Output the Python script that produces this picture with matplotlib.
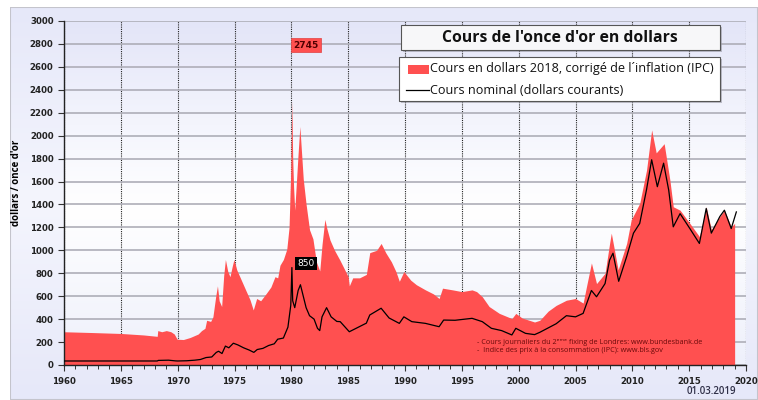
import numpy as np
import matplotlib
matplotlib.use('Agg')
import matplotlib.pyplot as plt
from matplotlib.patches import Rectangle
from matplotlib.lines import Line2D
from matplotlib.colors import LinearSegmentedColormap

# --- data ---
real_years = [1960.0, 1962.5, 1965.0, 1967.0, 1968.2, 1968.25, 1968.6, 1969.0, 1969.4, 1969.7,
              1969.95, 1970.5, 1971.1, 1971.8, 1972.1, 1972.4, 1972.55, 1972.9, 1973.1, 1973.35,
              1973.5, 1973.65, 1973.87, 1974.05, 1974.2, 1974.4, 1974.6, 1974.8, 1974.95, 1975.2,
              1975.6, 1976.0, 1976.36, 1976.65, 1976.95, 1977.3, 1977.8, 1978.2, 1978.56, 1978.8,
              1979.0, 1979.3, 1979.6, 1979.8, 1979.95, 1980.04, 1980.12, 1980.2, 1980.3, 1980.45,
              1980.6, 1980.75, 1980.9, 1981.05, 1981.3, 1981.6, 1981.9, 1982.2, 1982.5, 1982.7,
              1982.95, 1983.1, 1983.4, 1983.8, 1984.27, 1984.6, 1985.0, 1985.1, 1985.4, 1986.0,
              1986.6, 1986.9, 1987.5, 1987.9, 1988.3, 1988.8, 1989.2, 1989.5, 1989.9, 1990.5,
              1991.0, 1991.8, 1992.5, 1993.0, 1993.3, 1994.2, 1995.0, 1995.9, 1996.3, 1996.8,
              1997.4, 1998.3, 1999.4, 1999.75, 2000.3, 2001.4, 2001.86, 2002.6, 2003.3, 2004.2,
              2005.0, 2005.67, 2006.0, 2006.4, 2006.85, 2007.6, 2008.0, 2008.15, 2008.75, 2009.5,
              2009.9, 2010.65, 2011.25, 2011.7, 2012.1, 2012.8, 2013.3, 2013.6, 2014.2, 2015.06,
              2015.9, 2016.5, 2016.95, 2017.7, 2018.1, 2018.7, 2019.0]
real_price = [290, 283, 275, 262, 250, 300, 290, 300, 290, 270,
              225, 222, 240, 270, 300, 320, 390, 380, 420, 600,
              690, 560, 510, 780, 920, 820, 770, 860, 920, 830,
              740, 650, 570, 480, 580, 560, 625, 680, 770, 760,
              870, 920, 1010, 1200, 1700, 2300, 1800, 1550, 1350, 1600,
              1850, 2080, 1850, 1620, 1400, 1180, 1100, 900, 820, 1050,
              1270, 1200, 1090, 1000, 915, 850, 770, 690, 760, 760,
              790, 980, 1000, 1060, 980, 900, 815, 730, 815, 740,
              700, 655, 620, 580, 670, 655, 640, 655, 640, 595,
              510, 450, 405, 450, 410, 375, 390, 470, 520, 565,
              580, 540, 700, 890, 710, 800, 1060, 1150, 830, 1060,
              1265, 1410, 1700, 2050, 1850, 1930, 1615, 1380, 1350, 1235,
              1120, 1380, 1180, 1295, 1350, 1205, 1235]

nom_years = [1960.0, 1968.2, 1968.3, 1969.2, 1969.8, 1970.0, 1970.8, 1971.5, 1972.0, 1972.5,
             1973.0, 1973.4, 1973.6, 1973.9, 1974.2, 1974.5, 1974.9, 1975.3, 1975.8, 1976.3,
             1976.7, 1977.0, 1977.5, 1978.0, 1978.5, 1978.8, 1979.3, 1979.7, 1979.95, 1980.05,
             1980.12, 1980.3, 1980.6, 1980.8, 1981.0, 1981.3, 1981.6, 1982.0, 1982.3, 1982.5,
             1982.7, 1983.1, 1983.5, 1984.0, 1984.3, 1985.1, 1986.0, 1986.6, 1986.9, 1987.9,
             1988.6, 1989.5, 1989.9, 1990.6, 1991.8, 1993.0, 1993.4, 1994.4, 1995.9, 1996.8,
             1997.6, 1998.5, 1999.4, 1999.75, 2000.6, 2001.4, 2001.86, 2003.3, 2004.2, 2005.0,
             2005.67, 2006.4, 2006.85, 2007.6, 2008.0, 2008.3, 2008.8, 2009.5, 2010.1, 2010.65,
             2011.25, 2011.7, 2012.2, 2012.75, 2013.2, 2013.6, 2014.2, 2015.06, 2015.9, 2016.5,
             2016.95, 2017.7, 2018.1, 2018.7, 2019.15]
nom_price = [35, 35, 40, 42, 36, 35, 37, 42, 48, 65,
             70, 110, 120, 100, 165, 150, 190, 175, 150, 130,
             110, 135, 145, 170, 185, 225, 235, 330, 520, 850,
             560, 500, 650, 700, 620, 500, 430, 400, 320, 300,
             420, 500, 420, 380, 378, 290, 335, 365, 436, 495,
             410, 363, 420, 378, 363, 334, 392, 390, 407, 378,
             320, 300, 262, 320, 276, 265, 285, 360, 430, 420,
             450, 650, 595, 710, 915, 975, 730, 945, 1150, 1235,
             1530, 1790, 1555, 1760, 1525, 1205, 1320, 1190, 1060, 1365,
             1150, 1295, 1350, 1190, 1335]

real_peak = 2745
nominal_peak = 850

title = "Cours de l'once d'or en dollars"
label_real = "Cours en dollars 2018, corrigé de l\u00b4inflation (IPC)"
label_nom = "Cours nominal (dollars courants)"
sources = ["- Cours journaliers du 2\u1d49\u1d50\u1d49 fixing de Londres: www.bundesbank.de",
           "-  Indice des prix à la consommation (IPC): www.bls.gov"]
date_str = "01.03.2019"

RED = '#ff5050'
W, H = 758, 400


def fx(px):
    return px / W


def fy(py):
    return 1 - py / H


fig = plt.figure(figsize=(7.58, 4.0), dpi=100)
fig.patch.set_facecolor('white')

# outer panel with soft lavender gradient
bg = fig.add_axes([fx(10), 0, fx(748), 393 / H])
bg_cmap = LinearSegmentedColormap.from_list('bg', ['#e6e8f9', '#f4f5fd', '#e6e8f9'])
bg.imshow(np.linspace(0, 1, 256).reshape(-1, 1), aspect='auto', cmap=bg_cmap,
          extent=[0, 1, 0, 1])
bg.add_patch(Rectangle((0, 0), 1, 1, transform=bg.transAxes, fill=False,
                       edgecolor='#c4c4cc', lw=1.5))
bg.set_axis_off()

ax = fig.add_axes([fx(64), 35 / H, fx(682), 344 / H])
ax.set_xlim(1960, 2020)
ax.set_ylim(0, 3000)

# plot area gradient: lavender top, white middle, light lavender bottom
pa_cmap = LinearSegmentedColormap.from_list('pa', [(0, '#eef0fb'), (0.45, '#ffffff'),
                                                   (0.7, '#f4f5fd'), (1, '#e3e5f8')])
ax.imshow(np.linspace(0, 1, 256).reshape(-1, 1), aspect='auto', cmap=pa_cmap,
          extent=[1960, 2020, 0, 3000], origin='lower', zorder=0)

ax.grid(axis='y', color='#aeaeb8', lw=1.2, zorder=0.5)
ax.grid(axis='x', which='major', color='#222222', ls=(0, (1, 1)), lw=0.8, zorder=0.5)
ax.set_axisbelow(True)

ax.fill_between(real_years, real_price, 0, color=RED, lw=0, zorder=2)
ax.plot(nom_years, nom_price, color='black', lw=0.9, zorder=3)

ax.set_xticks(range(1960, 2021, 5))
ax.set_xticks(range(1960, 2021, 1), minor=True)
ax.set_yticks(range(0, 3001, 200))
ax.tick_params(axis='both', which='major', labelsize=6.2, length=4, width=0.8,
               colors='#333333', labelcolor='#222222')
ax.tick_params(axis='x', which='minor', length=3, width=0.7, colors='#333333')
for lab in ax.get_xticklabels() + ax.get_yticklabels():
    lab.set_fontweight('bold')
ax.tick_params(axis='x', pad=5)
for s in ['top', 'right']:
    ax.spines[s].set_visible(False)
for s in ['left', 'bottom']:
    ax.spines[s].set_color('#222222')
    ax.spines[s].set_linewidth(1.0)

ax.set_ylabel("dollars / once d'or", fontsize=7, fontweight='bold',
              family=['Open Sans', 'DejaVu Sans'])
ax.yaxis.set_label_coords(-0.062, 0.53)

# peak labels
ax.text(1981.3, 2790, str(real_peak), ha='center', va='center', fontsize=6.5,
        fontweight='bold', color='#500000',
        bbox=dict(boxstyle='square,pad=0.3', fc=RED, ec='#e04040', lw=0.5), zorder=5)
ax.text(1981.3, 885, str(nominal_peak), ha='center', va='center', fontsize=6.5,
        color='white', bbox=dict(boxstyle='square,pad=0.25', fc='black', ec='none'),
        zorder=5)

# sources and date
for i, s in enumerate(sources):
    fig.text(fx(477), fy(342 + i * 8), s, fontsize=5.2, color='#6a0a0a', va='center',
             family=['Open Sans', 'DejaVu Sans'])
fig.text(fx(736), fy(392), date_str, fontsize=7, color='#303048', ha='right', va='center',
         fontweight='semibold', family=['Open Sans', 'DejaVu Sans'])


def box(x0, y0, x1, y1, fc='white'):
    fig.add_artist(Rectangle((fx(x0 + 2), fy(y1 + 2)), fx(x1 - x0), (y1 - y0) / H,
                             transform=fig.transFigure, fc='#9a9aa6', ec='none', alpha=0.6))
    fig.add_artist(Rectangle((fx(x0), fy(y1)), fx(x1 - x0), (y1 - y0) / H,
                             transform=fig.transFigure, fc=fc, ec='#555555', lw=0.8))


# title box
box(401, 25, 720, 50, fc='#f7f7f9')
fig.text(fx(560), fy(37.5), title, ha='center', va='center', fontsize=11.3,
         fontweight='bold', color='#111111', family=['Open Sans', 'DejaVu Sans'])

# legend box
box(399, 57, 720, 101)
fig.add_artist(Rectangle((fx(408), fy(74)), fx(21), 9 / H, transform=fig.transFigure,
                         fc=RED, ec='none'))
fig.add_artist(Line2D([fx(406), fx(429)], [fy(90), fy(90)], transform=fig.transFigure,
                      color='black', lw=0.9))
fig.text(fx(430), fy(68.5), label_real, va='center', fontsize=9.1, color='#111111',
         family=['Open Sans', 'DejaVu Sans'])
fig.text(fx(430), fy(90), label_nom, va='center', fontsize=9.1, color='#111111',
         family=['Open Sans', 'DejaVu Sans'])

fig.savefig('out.png', dpi=100)
